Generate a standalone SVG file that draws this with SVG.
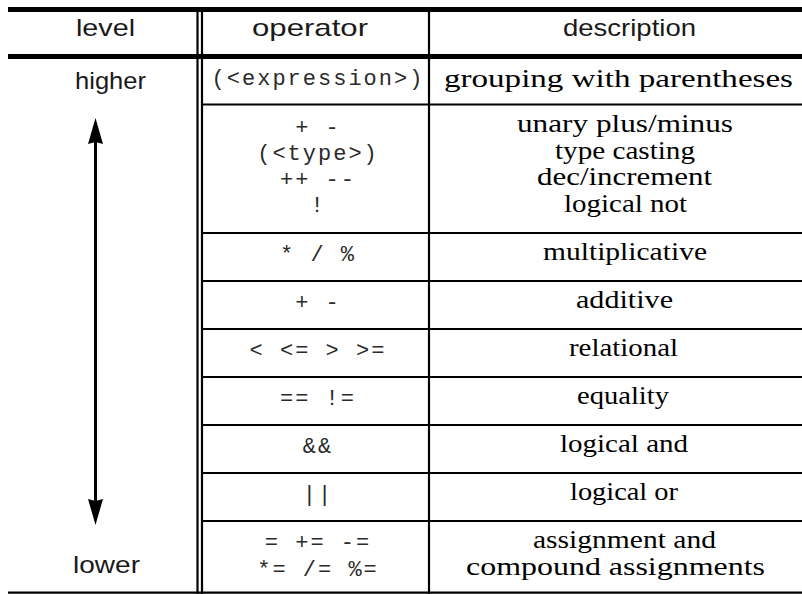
<svg xmlns="http://www.w3.org/2000/svg" width="802" height="594" viewBox="0 0 802 594">
  <style>
    .head { font-family: "Liberation Sans", Arial, sans-serif; font-size: 24px; fill: #1a1a1a; }
    .op { font-family: "Liberation Mono", "Courier New", monospace; font-size: 22px; letter-spacing: 2px; fill: #2a2a2a; text-anchor: middle; }
    .desc { font-family: "Liberation Serif", "Times New Roman", serif; font-size: 25px; fill: #000; text-anchor: middle; }
    .rule { stroke: #000; stroke-width: 2.2; fill: none; }
    .thick { stroke: #000; stroke-width: 4.8; fill: none; }
  </style>
  <defs>
    <marker id="head" markerUnits="userSpaceOnUse" viewBox="-20 -8 30 16" markerWidth="30" markerHeight="16" refX="0" refY="0" orient="auto-start-reverse">
      <path d="M8,0 L-18,-7.5 L-16,0 L-18,7.5 Z" fill="#000"/>
    </marker>
  </defs>
  <rect width="802" height="594" fill="#fff"/>

  <!-- table rules -->
  <g id="grid">
    <line class="thick" x1="8" y1="9.5" x2="802" y2="9.5"/>
    <line class="thick" x1="8" y1="56.5" x2="802" y2="56.5"/>
    <line class="rule" x1="8" y1="592.7" x2="802" y2="592.7"/>
    <line class="rule" x1="197.5" y1="7" x2="197.5" y2="594"/>
    <line class="rule" x1="202" y1="7" x2="202" y2="594"/>
    <line class="rule" x1="429" y1="7" x2="429" y2="594"/>
    <line class="rule" x1="202" y1="104.5" x2="802" y2="104.5"/>
    <line class="rule" x1="202" y1="233" x2="802" y2="233"/>
    <line class="rule" x1="202" y1="281" x2="802" y2="281"/>
    <line class="rule" x1="202" y1="329" x2="802" y2="329"/>
    <line class="rule" x1="202" y1="377" x2="802" y2="377"/>
    <line class="rule" x1="202" y1="425" x2="802" y2="425"/>
    <line class="rule" x1="202" y1="473" x2="802" y2="473"/>
    <line class="rule" x1="202" y1="521" x2="802" y2="521"/>
  </g>

  <!-- column headings -->
  <g id="header">
    <text class="head" x="76" y="36" textLength="59" lengthAdjust="spacingAndGlyphs">level</text>
    <text class="head" x="252" y="36" textLength="116" lengthAdjust="spacingAndGlyphs">operator</text>
    <text class="head" x="563" y="36" textLength="133" lengthAdjust="spacingAndGlyphs">description</text>
  </g>

  <!-- precedence direction -->
  <g id="level">
    <text class="head" x="75" y="89" textLength="71" lengthAdjust="spacingAndGlyphs">higher</text>
    <text class="head" x="73" y="573" textLength="67" lengthAdjust="spacingAndGlyphs">lower</text>
  </g>
  <g id="connectors">
    <line x1="95.5" y1="126" x2="95.5" y2="517" stroke="#000" stroke-width="3" marker-start="url(#head)" marker-end="url(#head)"/>
  </g>

  <g id="row-grouping">
    <text class="op" x="318" y="85">(&lt;expression&gt;)</text>
    <text class="desc" x="618.5" y="87" textLength="349" lengthAdjust="spacingAndGlyphs">grouping with parentheses</text>
  </g>
  <g id="row-unary">
    <text class="op" x="318" y="134">+ -</text>
    <text class="op" x="318" y="160">(&lt;type&gt;)</text>
    <text class="op" x="318" y="186">++ --</text>
    <text class="op" x="318" y="212">!</text>
    <text class="desc" x="625" y="132" textLength="216" lengthAdjust="spacingAndGlyphs">unary plus/minus</text>
    <text class="desc" x="625" y="158.5" textLength="140" lengthAdjust="spacingAndGlyphs">type casting</text>
    <text class="desc" x="624.5" y="185" textLength="175" lengthAdjust="spacingAndGlyphs">dec/increment</text>
    <text class="desc" x="625.5" y="212" textLength="123" lengthAdjust="spacingAndGlyphs">logical not</text>
  </g>
  <g id="row-multiplicative">
    <text class="op" x="318" y="261">* / %</text>
    <text class="desc" x="625" y="260" textLength="164" lengthAdjust="spacingAndGlyphs">multiplicative</text>
  </g>
  <g id="row-additive">
    <text class="op" x="318" y="309">+ -</text>
    <text class="desc" x="624.5" y="308" textLength="97" lengthAdjust="spacingAndGlyphs">additive</text>
  </g>
  <g id="row-relational">
    <text class="op" x="318" y="357">&lt; &lt;= &gt; &gt;=</text>
    <text class="desc" x="623.5" y="356" textLength="109" lengthAdjust="spacingAndGlyphs">relational</text>
  </g>
  <g id="row-equality">
    <text class="op" x="318" y="405">== !=</text>
    <text class="desc" x="623" y="404" textLength="92" lengthAdjust="spacingAndGlyphs">equality</text>
  </g>
  <g id="row-and">
    <text class="op" x="318" y="453">&amp;&amp;</text>
    <text class="desc" x="624" y="452" textLength="128" lengthAdjust="spacingAndGlyphs">logical and</text>
  </g>
  <g id="row-or">
    <text class="op" x="318" y="501">||</text>
    <text class="desc" x="624" y="500" textLength="108" lengthAdjust="spacingAndGlyphs">logical or</text>
  </g>
  <g id="row-assignment">
    <text class="op" x="318" y="549">= += -=</text>
    <text class="op" x="318" y="576">*= /= %=</text>
    <text class="desc" x="624.5" y="548" textLength="183" lengthAdjust="spacingAndGlyphs">assignment and</text>
    <text class="desc" x="615.5" y="575" textLength="299" lengthAdjust="spacingAndGlyphs">compound assignments</text>
  </g>
</svg>
